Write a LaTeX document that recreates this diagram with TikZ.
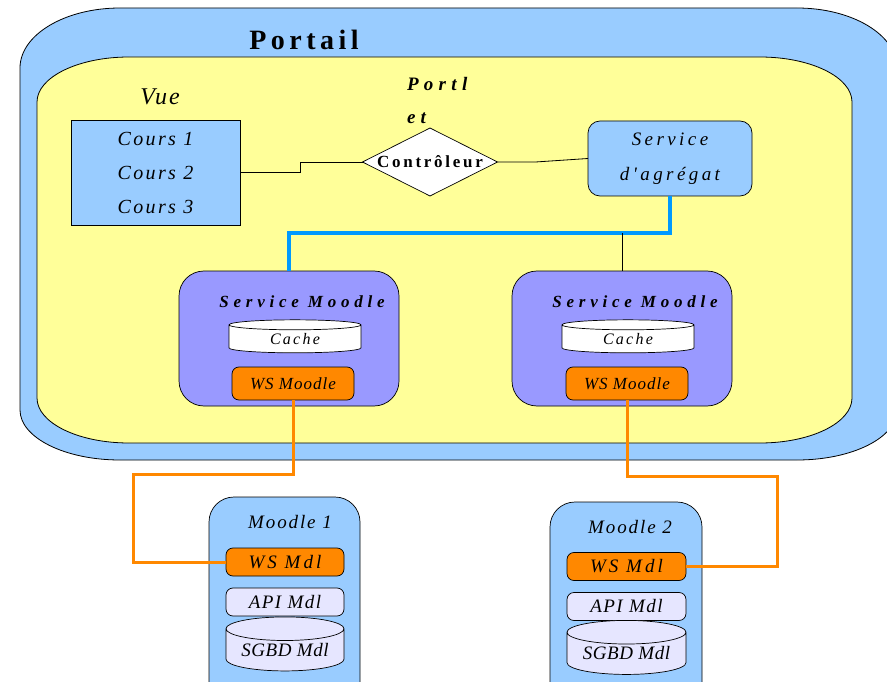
\documentclass[tikz,border=0pt]{standalone}
\usepackage{fontspec}
\setmainfont{Liberation Serif}
\newfontfamily\titlefont[LetterSpace=16]{Liberation Serif}
\newfontfamily\handfont{Liberation Serif}
\newfontfamily\widefont[LetterSpace=28]{Liberation Serif}
\usetikzlibrary{shapes.geometric}

\definecolor{portalblue}{HTML}{99CCFF}
\definecolor{portletyellow}{HTML}{FFFF99}
\definecolor{moodleviolet}{HTML}{9999FF}
\definecolor{wsorange}{HTML}{FF8800}
\definecolor{apilavender}{HTML}{E6E6FF}
\definecolor{linkblue}{HTML}{0099FF}

\newcommand\handtext[3]{\handfont\itshape\fontsize{#1}{#2}\selectfont\addfontfeatures{LetterSpace=#3}}

\begin{document}
\begin{tikzpicture}[x=1pt,y=-1pt,inner sep=0pt,outer sep=0pt,
  box/.style={draw=black,line width=0.7pt},
  plain/.style={draw=black,line width=0.8pt},
  bluelink/.style={draw=linkblue,line width=3.5pt},
  orangelink/.style={draw=wsorange,line width=3pt},
  wsbox/.style={box,fill=wsorange,rounded corners=7,minimum width=122,minimum height=33,
    font=\handtext{17}{19}{6}},
  apibox/.style={box,fill=apilavender,rounded corners=7,minimum width=118,minimum height=28,
    font=\handtext{19}{21}{8}},
  cachecyl/.style={box,cylinder,shape border rotate=90,aspect=0.2,fill=white,
    minimum width=132,minimum height=33,font=\handtext{16}{18}{14}},
  dbcyl/.style={box,cylinder,shape border rotate=90,aspect=0.27,fill=apilavender,
    minimum width=118,minimum height=54,font=\handtext{19}{21}{3}},
  smtitle/.style={font=\widefont\bfseries\itshape\fontsize{17}{19}\selectfont}]
\useasboundingbox (0,0) rectangle (887,682);
\clip (0,0) rectangle (887,682);

% portail and portlet
\path[draw=black,fill=portalblue,line width=0.8pt] (120,8) -- (797,8)
  arc(-90:0:100 and 60) -- (897,410) arc(0:90:100 and 50) -- (120,460)
  arc(90:180:100 and 50) -- (20,68) arc(180:270:100 and 60) -- cycle;
\path[draw=black,fill=portletyellow,line width=0.8pt] (129,57) -- (760,57)
  arc(-90:0:92 and 45) -- (852,398) arc(0:90:92 and 45) -- (129,443)
  arc(90:180:92 and 45) -- (37,102) arc(180:270:92 and 45) -- cycle;
\node[font=\titlefont\bfseries\fontsize{28}{30}\selectfont] (portail) at (304,40) {Portail};
\node[font=\handtext{24}{26}{8}] (vue) at (160,97) {Vue};
\node[font=\widefont\bfseries\itshape\fontsize{19}{21}\selectfont,anchor=base west]
  (portlet) at (407,91) {Portl};
\node[font=\widefont\bfseries\itshape\fontsize{19}{21}\selectfont,anchor=base west]
  (portletet) at (407,124) {et};

\node[box,fill=portalblue,minimum width=169,minimum height=105,align=center,
  font=\handtext{20}{34}{12}] (cours) at (155.5,172.5) {Cours 1\\Cours 2\\Cours 3};
\node[box,diamond,fill=white,minimum width=135,minimum height=68] (ctrl) at (430,162) {};
\node[font=\titlefont\bfseries\fontsize{17}{19}\selectfont] (ctrltxt) at (ctrl) {Contrôleur};
\node[box,fill=portalblue,rounded corners=12,minimum width=164,minimum height=75,
  align=center,font=\handtext{19}{35}{18}] (agreg) at (670,158.5) {Service\\d'agrégat};

% services moodle
\node[box,fill=moodleviolet,rounded corners=25,minimum width=220,minimum height=135]
  (sm1) at (289,338.5) {};
\node[smtitle] (sm1t) at (302,302) {Service Moodle};
\node[cachecyl] (cache1) at (295,339) {Cache};
\node[wsbox] (ws1) at (293,383.5) {WS Moodle};
\node[box,fill=moodleviolet,rounded corners=25,minimum width=220,minimum height=135]
  (sm2) at (622,338.5) {};
\node[smtitle] (sm2t) at (635,302) {Service Moodle};
\node[cachecyl] (cache2) at (628,339) {Cache};
\node[wsbox] (ws2) at (627,383.5) {WS Moodle};

% moodle
\node[box,fill=portalblue,rounded corners=25,minimum width=151,minimum height=210]
  (md1) at (284.5,602) {};
\node[font=\handtext{19}{21}{10}] (md1t) at (290,522) {Moodle 1};
\node[wsbox,minimum width=118,minimum height=28,font=\handtext{19}{21}{16}]
  (mws1) at (285,562) {WS Mdl};
\node[apibox] (api1) at (285,602) {API Mdl};
\node[dbcyl] (db1) at (285,650) {SGBD Mdl};
\node[box,fill=portalblue,rounded corners=25,minimum width=152,minimum height=210]
  (md2) at (626,607) {};
\node[font=\handtext{19}{21}{10}] (md2t) at (630,527) {Moodle 2};
\node[wsbox,minimum width=119,minimum height=28,font=\handtext{19}{21}{16}]
  (mws2) at (626.5,566.5) {WS Mdl};
\node[apibox,minimum width=119] (api2) at (626.5,606.5) {API Mdl};
\node[dbcyl,minimum width=119] (db2) at (626.5,653.5) {SGBD Mdl};

% liens
\draw[plain] (cours.east) -- ++(60,0) |- (ctrl.west);
\draw[plain] (ctrl.east) -- ++(38,0) -- (agreg.west);
\draw[bluelink] (agreg.south) -- ++(0,37) -| (sm1.north);
\draw[plain] (sm2.north) -- ++(0,-38);
\coordinate (bendA) at (133,474);
\coordinate (bendB) at (777,476);
\draw[orangelink] (ws1.south) |- (bendA) |- (mws1.west);
\draw[orangelink] (ws2.south) |- (bendB) |- (mws2.east);
\end{tikzpicture}
\end{document}
